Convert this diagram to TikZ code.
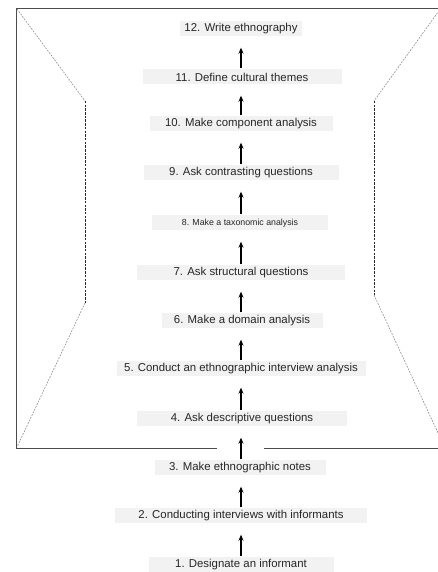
\documentclass[tikz,border=0pt]{standalone}
\usepackage{fontspec}
\setmainfont{Liberation Sans}
\usetikzlibrary{arrows.meta}
\begin{document}
\begin{tikzpicture}[x=1pt,y=1pt,
  stepbox/.style={fill=black!5, text=black!85, minimum height=15pt, inner sep=0pt,
    font=\fontsize{11.4}{13}\selectfont},
  smallbox/.style={stepbox, font=\fontsize{8.8}{10}\selectfont},
  arr/.style={line width=1.1pt, -{Stealth[length=6pt,width=5pt]}, shorten >=11pt, shorten <=1pt},
  frame/.style={line width=0.9pt, draw=black!70},
  diag/.style={line width=0.6pt, draw=black!45, dash pattern=on 1.8pt off 1.2pt},
  vert/.style={line width=0.6pt, draw=black!85, dash pattern=on 2.5pt off 1.2pt}
]
\useasboundingbox (0,0) rectangle (438,572);
% frame
\draw[frame] (217,124) -- (16,124) -- (16,564) -- (445,564);
\draw[frame] (264,124) -- (445,124);
% funnel outline
\draw[diag] (17,563) -- (85,471);
\draw[vert] (85,471) -- (85,269);
\draw[diag] (85,269) -- (17,125);
\draw[diag] (441,564) -- (374,471);
\draw[vert] (374,471) -- (374,277);
\draw[diag] (374,277) -- (445,124);
% steps
\node[stepbox, minimum width=122pt] (n12) at (241,543) {12. Write ethnography};
\node[stepbox, minimum width=199pt] (n11) at (242,495) {11. Define cultural themes};
\node[stepbox, minimum width=183pt] (n10) at (241,448) {10. Make component analysis};
\node[stepbox, minimum width=195pt] (n9) at (241,399) {9. Ask contrasting questions};
\node[smallbox, minimum width=176pt] (n8) at (240,349) {8. Make a taxonomic analysis};
\node[stepbox, minimum width=208pt] (n7) at (241,299) {7. Ask structural questions};
\node[stepbox, minimum width=161pt] (n6) at (242,251) {6. Make a domain analysis};
\node[stepbox, minimum width=249pt] (n5) at (241,203) {5. Conduct an ethnographic interview analysis};
\node[stepbox, minimum width=210pt] (n4) at (242,153) {4. Ask descriptive questions};
\node[stepbox, minimum width=171pt] (n3) at (240,104) {3. Make ethnographic notes};
\node[stepbox, minimum width=252pt] (n2) at (241,56) {2. Conducting interviews with informants};
\node[stepbox, minimum width=185pt] (n1) at (241,7) {1. Designate an informant};
% arrows
\foreach \a/\b in {n1/n2,n2/n3,n3/n4,n4/n5,n5/n6,n6/n7,n7/n8,n8/n9,n9/n10,n10/n11,n11/n12}
  \draw[arr] (\a.north -| 241,0) -- (\b.south -| 241,0);
\end{tikzpicture}
\end{document}
